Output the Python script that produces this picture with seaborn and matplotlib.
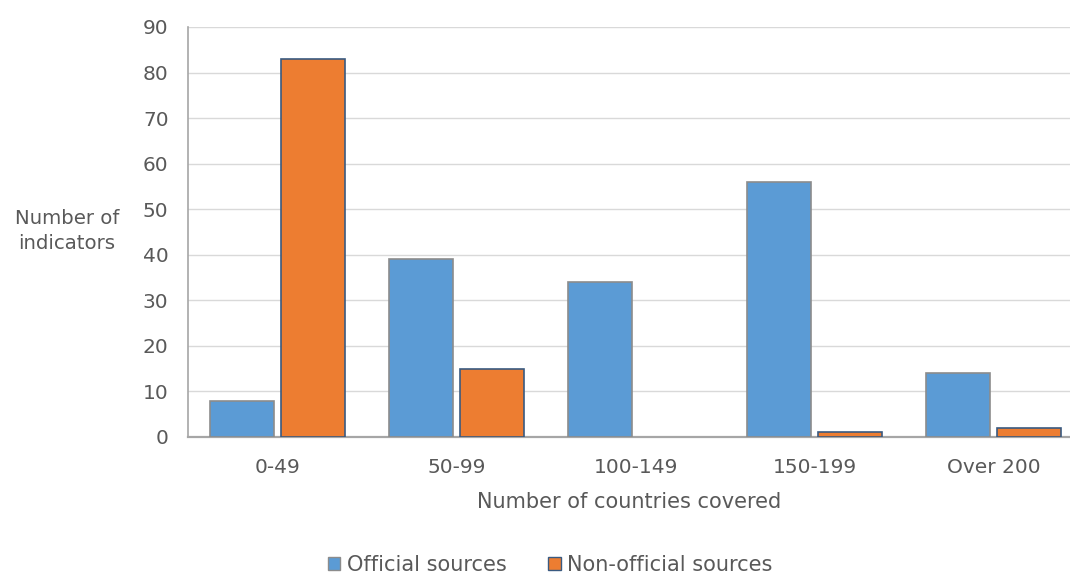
import matplotlib
matplotlib.use("Agg")
import matplotlib.pyplot as plt
import seaborn as sns
import pandas as pd
from matplotlib.patches import Patch

categories = ["0-49", "50-99", "100-149", "150-199", "Over 200"]
official = [8, 39, 34, 56, 14]
non_official = [83, 15, 0, 1, 2]
series_names = ["Official sources", "Non-official sources"]

df = pd.DataFrame({
    "range": categories * 2,
    "count": official + non_official,
    "source": [series_names[0]] * len(categories) + [series_names[1]] * len(categories),
})

sns.set_style("white")
plt.rcParams["font.family"] = ["DejaVu Sans"]
text_color = "#595959"

fig = plt.figure(figsize=(10.7, 5.74), dpi=100)
ax = fig.add_axes([188 / 1070, 1 - 437 / 574, (1070 - 188) / 1070, (437 - 27) / 574])

colors = {"Official sources": "#5B9BD5", "Non-official sources": "#ED7D31"}
edges = {"Official sources": "#8c8c8c", "Non-official sources": "#3a5a80"}

sns.barplot(data=df, x="range", y="count", hue="source", order=categories,
            hue_order=series_names, palette=colors, saturation=1,
            width=0.79, gap=0.085, ax=ax, legend=False, zorder=3)

# edge colours per series; empty bars get no outline
n = len(categories)
for i, patch in enumerate(ax.patches[:2 * n]):
    name = series_names[i // n]
    patch.set_edgecolor(edges[name])
    patch.set_linewidth(1.2 if patch.get_height() > 0 else 0)

ax.set_ylim(0, 90)
ax.set_xlim(-0.5, -0.5 + (1070 - 188) / 179)
ax.set_yticks(range(0, 91, 10))
ax.yaxis.grid(True, color="#d9d9d9", linewidth=1, zorder=0)
ax.set_axisbelow(True)

for side in ["top", "right"]:
    ax.spines[side].set_visible(False)
ax.spines["left"].set_color("#a6a6a6")
ax.spines["bottom"].set_color("#a6a6a6")
ax.spines["bottom"].set_linewidth(1.6)
ax.spines["left"].set_linewidth(1.2)

ax.tick_params(axis="both", length=0, labelsize=14.5, colors=text_color)
ax.tick_params(axis="y", pad=14)
ax.tick_params(axis="x", pad=15)
ax.set_xlabel("Number of countries covered", fontsize=15, color=text_color, labelpad=11)
ax.set_ylabel("")
fig.text(67 / 1070, 1 - 231 / 574, "Number of\nindicators", ha="center", va="center",
         fontsize=14.2, color=text_color, linespacing=1.45)

handles = [Patch(facecolor=colors[s], edgecolor=edges[s], label=s) for s in series_names]
fig.legend(handles=handles, loc="center", bbox_to_anchor=(550 / 1070, 1 - 565 / 574),
           ncol=2, frameon=False, fontsize=15, handlelength=0.6, handleheight=0.6,
           handletextpad=0.3, columnspacing=2.0, labelcolor=text_color)

fig.savefig("out.png", dpi=100)
